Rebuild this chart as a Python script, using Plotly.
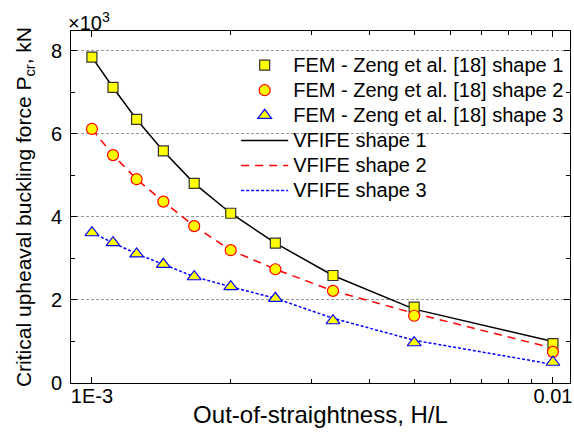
import plotly.graph_objects as go

# H/L values
x_vals = [1/1000, 1/900, 1/800, 1/700, 1/600, 1/500, 1/400, 1/300, 1/200, 1/100]

# FEM - Zeng et al. [18] (x10^3 kN)
fem_shape1 = [7.85, 7.12, 6.35, 5.59, 4.81, 4.09, 3.37, 2.59, 1.83, 0.95]
fem_shape2 = [6.12, 5.49, 4.91, 4.37, 3.78, 3.20, 2.74, 2.22, 1.62, 0.75]
fem_shape3 = [3.62, 3.38, 3.11, 2.86, 2.56, 2.32, 2.04, 1.50, 0.97, 0.50]

# VFIFE (x10^3 kN)
vf_shape1 = [7.85, 7.12, 6.35, 5.59, 4.81, 4.09, 3.37, 2.59, 1.78, 1.00]
vf_shape2 = [6.12, 5.49, 4.91, 4.37, 3.78, 3.20, 2.74, 2.22, 1.68, 0.84]
vf_shape3 = [3.62, 3.38, 3.11, 2.86, 2.56, 2.32, 2.04, 1.56, 1.03, 0.45]

x_tickvals = [0.001, 0.01]
x_ticktext = ["1E-3", "0.01"]
x_minor = [0.002, 0.003, 0.004, 0.005, 0.006, 0.007, 0.008, 0.009]
y_tickvals = [0, 2, 4, 6, 8]

legend_names = ["FEM - Zeng et al. [18] shape 1", "FEM - Zeng et al. [18] shape 2",
                "FEM - Zeng et al. [18] shape 3", "VFIFE shape 1", "VFIFE shape 2", "VFIFE shape 3"]

FONT = "Liberation Sans, Arial, sans-serif"


def lg(name):
    return '<span style="font-size:20px">' + name + '</span>'


fig = go.Figure()
# lines first (drawn below markers)
fig.add_trace(go.Scatter(x=x_vals, y=vf_shape1, mode="lines", name=lg(legend_names[3]), legendrank=4,
                         line=dict(color="black", width=1.5)))
fig.add_trace(go.Scatter(x=x_vals, y=vf_shape2, mode="lines", name=lg(legend_names[4]), legendrank=5,
                         line=dict(color="#FF0000", width=1.5, dash="8px,6px")))
fig.add_trace(go.Scatter(x=x_vals, y=vf_shape3, mode="lines", name=lg(legend_names[5]), legendrank=6,
                         line=dict(color="#0000FF", width=1.5, dash="3px,2px")))
fig.add_trace(go.Scatter(x=x_vals, y=fem_shape1, mode="markers", name=lg(legend_names[0]), legendrank=1,
                         marker=dict(symbol="square", size=10, color="#FFFF00", line=dict(color="#333333", width=1.2))))
fig.add_trace(go.Scatter(x=x_vals, y=fem_shape2, mode="markers", name=lg(legend_names[1]), legendrank=2,
                         marker=dict(symbol="circle", size=11, color="#FFFF00", line=dict(color="#FF0000", width=1.2))))
fig.add_trace(go.Scatter(x=x_vals, y=fem_shape3, mode="markers", name=lg(legend_names[2]), legendrank=3,
                         marker=dict(symbol="triangle-up", size=12, color="#FFFF00", line=dict(color="#0000FF", width=1.2))))

fig.update_layout(
    width=574, height=433,
    margin=dict(l=71, r=2, t=31, b=50),
    plot_bgcolor="white", paper_bgcolor="white",
    font=dict(family=FONT, size=20, color="black"),
    showlegend=True,
    legend=dict(x=0.331, y=0.953, xanchor="left", yanchor="top", bgcolor="rgba(0,0,0,0)",
                font=dict(size=17), itemwidth=47, traceorder="normal", tracegroupgap=0),
    xaxis=dict(type="log", range=[-3.0454, -1.963], tickvals=x_tickvals, ticktext=x_ticktext,
               ticks="inside", ticklen=6, tickcolor="black", showline=True, linecolor="black",
               linewidth=1, mirror="ticks", showgrid=False, zeroline=False, ticklabelstandoff=-5,
               ticklabeloverflow="allow",
               minor=dict(tickvals=x_minor, ticks="inside", ticklen=4, tickcolor="black", showgrid=False),
               title=dict(text="Out-of-straightness, H/L", standoff=0)),
    yaxis=dict(range=[0, 8.48], tickvals=y_tickvals, ticks="inside", ticklen=6, tickcolor="black",
               showline=True, linecolor="black", linewidth=1, mirror="ticks", ticklabelstandoff=4,
               showgrid=True, gridcolor="#999999", griddash="3px,2px", gridwidth=1, zeroline=False,
               minor=dict(dtick=1, ticks="inside", ticklen=4, tickcolor="black", showgrid=False),
               title=dict(text="Critical upheaval buckling force P<sub>cr</sub>, kN", standoff=13,
                          font=dict(size=21))),
)

fig.add_annotation(text="\u00d710<sup>3</sup>", xref="paper", yref="paper", x=-0.01, y=1.0,
                   xanchor="left", yanchor="bottom", showarrow=False, font=dict(size=20), yshift=-5)

fig.write_html("out.html")
